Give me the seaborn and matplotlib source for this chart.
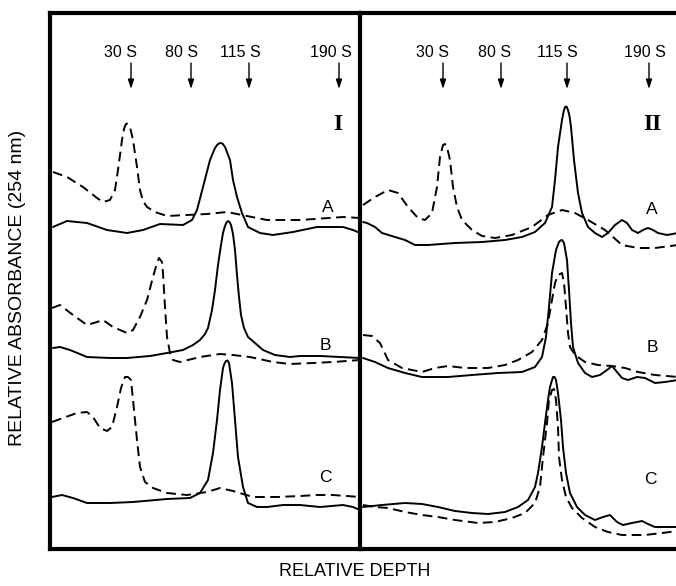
import matplotlib
matplotlib.use("Agg")
import matplotlib.pyplot as plt
import seaborn as sns
import pandas as pd

# ---------------- data (relative depth, relative absorbance; arbitrary units) ----------------
# Panel I
I_A_dash_x = [3, 17, 33, 47, 53, 60, 65, 68, 72, 74, 75, 76, 77, 78, 80, 83, 87, 90, 93, 97, 105, 117, 137, 157, 177, 197, 217, 250, 293, 310]
I_A_dash_y = [376, 371, 361, 350, 346, 348, 358, 378, 408, 419, 422, 424, 424.5, 423, 421, 408, 381, 358, 347, 341, 336, 332, 333, 334, 336, 332, 328, 328, 331, 330]
I_A_sol_x = [3, 17, 37, 57, 77, 93, 110, 133, 142, 147, 153, 160, 165, 167.5, 170, 172.5, 175, 180, 183, 187, 192, 198, 210, 223, 243, 267, 293, 303, 310]
I_A_sol_y = [321, 327, 325, 318, 315, 318, 324, 323, 328, 338, 361, 388, 400, 403.5, 405, 404.5, 401, 388, 368, 351, 335, 321, 315, 313, 316, 321, 321, 318, 315]

I_B_dash_x = [2, 10, 23, 37, 47, 53, 63, 77, 83, 90, 97, 103, 107, 109, 112, 113, 115, 117, 120, 123, 130, 150, 170, 183, 200, 223, 240, 263, 283, 310]
I_B_dash_y = [240, 243, 233, 223, 226, 228, 221, 215, 218, 231, 248, 271, 285, 290, 286, 275, 241, 211, 195, 188, 186, 191, 194, 193, 191, 186, 184, 185, 186, 188]
I_B_sol_x = [3, 10, 20, 37, 60, 77, 100, 117, 133, 143, 150, 155, 158, 162, 165, 168, 171, 173, 175, 176.5, 178, 179.5, 181, 183, 185, 187, 189, 191, 194, 198, 205, 213, 225, 240, 250, 270, 290, 310]
I_B_sol_y = [200, 201, 198, 191, 190, 190, 192, 195, 198, 203, 208, 214, 220, 238, 258, 283, 303, 315, 322, 325.5, 327, 326, 323, 314, 298, 273, 251, 233, 220, 211, 205, 198, 193, 191, 192, 192, 191, 190]

I_C_dash_x = [2, 13, 27, 37, 43, 50, 57, 62, 67, 71, 75, 78, 81, 83, 87, 90, 95, 103, 117, 137, 157, 170, 183, 203, 227, 250, 267, 283, 310]
I_C_dash_y = [126, 130, 135, 136, 131, 120, 117, 121, 141, 160, 171, 171, 168, 148, 108, 81, 66, 60, 55, 53, 56, 60, 57, 51, 51, 52, 53, 53, 51]
I_C_sol_x = [2, 12, 23, 37, 60, 83, 117, 140, 150, 158, 163, 167, 170, 173, 174.5, 176, 177.5, 179, 182, 185, 188, 193, 198, 207, 217, 233, 250, 270, 293, 303, 310]
I_C_sol_y = [51, 53, 50, 45, 45, 46, 49, 50, 55, 68, 95, 128, 158, 180, 184.5, 187, 187.5, 185, 165, 128, 91, 61, 45, 41, 41, 43, 43, 41, 43, 41, 38]

# Panel II
II_A_dash_x = [1, 13, 26, 36, 46, 56, 63, 70, 75, 78, 81, 83, 85, 88, 91, 95, 100, 110, 120, 133, 150, 170, 186, 200, 213, 226, 243, 260, 276, 293, 316]
II_A_dash_y = [343, 351, 358, 355, 341, 330, 328, 335, 361, 391, 403, 404, 401, 388, 361, 341, 328, 318, 312, 310, 313, 321, 333, 338, 335, 328, 318, 303, 300, 300, 303]
II_A_sol_x = [1, 5, 13, 20, 33, 43, 53, 66, 93, 120, 143, 160, 173, 183, 190, 193, 196, 200, 201.5, 203, 204.5, 206, 207.5, 209, 212, 216, 220, 226, 233, 240, 246, 253, 260, 265, 270, 276, 281, 286, 291, 296, 305, 316]
II_A_sol_y = [326, 325, 321, 315, 311, 308, 303, 303, 305, 306, 308, 311, 316, 325, 341, 368, 401, 428, 436, 441, 441.5, 438, 432, 421, 388, 355, 335, 321, 315, 311, 315, 323, 328, 325, 318, 315, 318, 320, 318, 315, 313, 315]

II_B_dash_x = [1, 10, 18, 26, 40, 60, 73, 86, 103, 126, 143, 156, 170, 180, 186, 190, 193, 196, 200, 202, 204, 206, 208, 213, 223, 236, 250, 263, 276, 293, 316]
II_B_dash_y = [213, 212, 205, 188, 180, 176, 180, 182, 180, 180, 183, 188, 196, 208, 225, 248, 265, 273, 275, 265, 241, 215, 201, 193, 186, 183, 182, 180, 176, 173, 171]
II_B_sol_x = [1, 13, 26, 43, 60, 86, 110, 136, 160, 173, 180, 184, 187, 190, 194, 197, 198.5, 200, 202, 205, 207, 209, 211, 216, 223, 230, 238, 245, 250, 255, 260, 266, 275, 283, 293, 303, 316]
II_B_sol_y = [190, 186, 180, 175, 171, 171, 173, 175, 176, 181, 191, 211, 241, 275, 298, 306, 307.5, 308, 305, 288, 258, 225, 201, 185, 175, 171, 173, 178, 182, 176, 170, 168, 171, 170, 165, 166, 168]

II_C_dash_x = [1, 13, 26, 43, 60, 76, 93, 116, 133, 150, 163, 173, 178, 181, 185, 187, 190, 192, 194, 196, 197, 200, 204, 210, 220, 233, 246, 260, 283, 300, 316]
II_C_dash_y = [43, 41, 40, 36, 33, 31, 28, 25, 26, 30, 35, 45, 61, 91, 125, 148, 158, 159, 148, 121, 91, 68, 51, 40, 30, 21, 16, 13, 13, 15, 17]
II_C_sol_x = [1, 20, 43, 60, 76, 93, 110, 126, 143, 156, 166, 173, 176, 180, 183, 186, 188, 191, 192.5, 194, 196, 199, 201, 204, 208, 215, 223, 233, 241, 248, 255, 261, 270, 280, 286, 293, 303, 316]
II_C_sol_y = [41, 43, 45, 44, 41, 37, 35, 34, 36, 41, 48, 61, 75, 101, 125, 148, 161, 171, 171, 168, 155, 128, 101, 75, 55, 41, 33, 28, 31, 33, 26, 23, 25, 27, 24, 21, 21, 21]

# sedimentation markers
marker_labels = ["30 S", "80 S", "115 S", "190 S"]
I_marker_x = [81, 141, 199, 289]
I_label_x = [70, 132, 190, 281]
II_marker_x = [81, 139, 205, 287]
II_label_x = [70, 133, 195, 283]
marker_tail_y = 485
marker_tip_y = 459
label_y = 491

profile_labels = ["A", "B", "C"]
I_profile_x = [278, 275, 275]
I_profile_y = [341, 203, 71]
II_profile_x = [290, 290, 288]
II_profile_y = [338, 200, 68]
panel_names = ["I", "II"]

# ---------------- plotting ----------------
sns.set_theme(style="white")
plt.rcParams["font.family"] = ["Liberation Sans", "DejaVu Sans"]

W, H = 676, 586
fig = plt.figure(figsize=(W / 100, H / 100), dpi=100)
ax1 = fig.add_axes([50 / W, (H - 549) / H, 310 / W, 536 / H])
ax2 = fig.add_axes([360 / W, (H - 549) / H, 320 / W, 536 / H])

DASH = (0, (5.0, 2.8))
LW = 1.4


def draw(ax, x, y, dashed):
    df = pd.DataFrame({"depth": x, "absorb": y})
    sns.lineplot(data=df, x="depth", y="absorb", ax=ax, color="black",
                 sort=False, estimator=None, lw=LW,
                 linestyle=DASH if dashed else "-", legend=False)


panels = [
    (ax1, [(I_A_dash_x, I_A_dash_y, True), (I_A_sol_x, I_A_sol_y, False),
           (I_B_dash_x, I_B_dash_y, True), (I_B_sol_x, I_B_sol_y, False),
           (I_C_dash_x, I_C_dash_y, True), (I_C_sol_x, I_C_sol_y, False)],
     I_marker_x, I_label_x, I_profile_x, I_profile_y, panel_names[0], (0, 310), 288),
    (ax2, [(II_A_dash_x, II_A_dash_y, True), (II_A_sol_x, II_A_sol_y, False),
           (II_B_dash_x, II_B_dash_y, True), (II_B_sol_x, II_B_sol_y, False),
           (II_C_dash_x, II_C_dash_y, True), (II_C_sol_x, II_C_sol_y, False)],
     II_marker_x, II_label_x, II_profile_x, II_profile_y, panel_names[1], (-2, 318), 290),
]

for ax, curves, mx, lx, px, py, pname, xl, pnx in panels:
    for x, y, d in curves:
        draw(ax, x, y, d)
    for lab, m, l in zip(marker_labels, mx, lx):
        ax.text(l, label_y, lab, ha="center", va="baseline", fontsize=11.5, color="black")
        ax.annotate("", xy=(m, marker_tip_y), xytext=(m, marker_tail_y),
                    arrowprops=dict(arrowstyle="-|>,head_length=0.55,head_width=0.18",
                                    lw=1.0, color="black", shrinkA=0, shrinkB=0,
                                    mutation_scale=10))
    for lab, x, y in zip(profile_labels, px, py):
        ax.text(x, y, lab, ha="center", va="center", fontsize=12.5, color="black")
    ax.text(pnx, 424, pname, ha="center", va="center", fontsize=17,
            fontweight="bold", family="Liberation Serif", color="black")
    ax.set_xlim(*xl)
    ax.set_ylim(-1, 535)
    ax.set_xticks([])
    ax.set_yticks([])
    ax.set_xlabel("")
    ax.set_ylabel("")
    for s in ax.spines.values():
        s.set_linewidth(3.0)
        s.set_color("black")

ax1.spines["right"].set_visible(False)
ax2.spines["right"].set_visible(False)

fig.text(18 / W, 1 - 288 / H, "RELATIVE ABSORBANCE (254 nm)", rotation=90,
         ha="center", va="center", fontsize=14, color="black")
fig.text(355 / W, 1 - 571 / H, "RELATIVE DEPTH", ha="center", va="center",
         fontsize=13, color="black")

fig.savefig("out.png", dpi=100)
